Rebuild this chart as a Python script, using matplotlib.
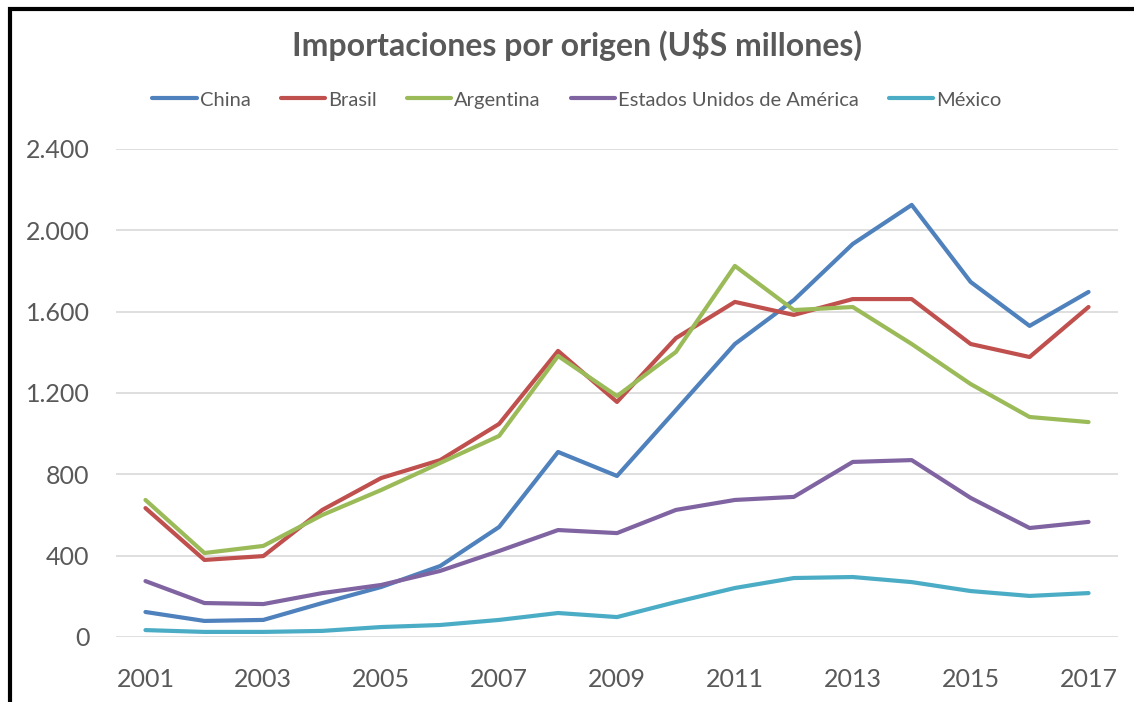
import matplotlib

matplotlib.use("Agg")
import matplotlib.pyplot as plt
from matplotlib.patches import Rectangle
from matplotlib.ticker import FuncFormatter

years = list(range(2001, 2018))
china = [123, 79, 84, 167, 246, 349, 541, 910, 792, 1116, 1441, 1657, 1933, 2125, 1746, 1530, 1697]
brasil = [634, 379, 398, 625, 782, 870, 1048, 1407, 1156, 1470, 1648, 1584, 1662, 1662, 1441, 1377, 1623]
argentina = [674, 413, 448, 600, 723, 856, 989, 1382, 1185, 1402, 1825, 1608, 1623, 1441, 1244, 1082, 1057]
eeuu = [275, 167, 162, 216, 256, 325, 423, 526, 511, 625, 674, 689, 861, 870, 684, 536, 566]
mexico = [34, 25, 25, 30, 49, 59, 84, 118, 98, 172, 241, 290, 295, 270, 226, 202, 216]

series = [
    ("China", china, "#4F81BD"),
    ("Brasil", brasil, "#C0504D"),
    ("Argentina", argentina, "#9BBB59"),
    ("Estados Unidos de América", eeuu, "#8064A2"),
    ("México", mexico, "#4BACC6"),
]

plt.rcParams["font.family"] = ["Lato", "DejaVu Sans"]
text_color = "#595959"

W, H = 1134, 702
fig = plt.figure(figsize=(W / 100, H / 100), dpi=100)
ax = fig.add_axes([116 / W, 1 - 637 / H, (1118 - 116) / W, (637 - 149) / H])

for name, vals, color in series:
    ax.plot(years, vals, color=color, linewidth=3.0, label=name, solid_capstyle="round")

ax.set_xlim(2000.5, 2017.5)
ax.set_ylim(0, 2400)
ax.set_xticks(years[::2])
ax.set_yticks(range(0, 2401, 400))
ax.yaxis.set_major_formatter(FuncFormatter(lambda v, p: f"{int(v):,}".replace(",", ".")))
ax.grid(axis="y", color="#D9D9D9", linewidth=1.2)
ax.set_axisbelow(True)
for s in ax.spines.values():
    s.set_visible(False)
ax.tick_params(axis="both", length=0, labelsize=18, colors=text_color)
ax.tick_params(axis="y", pad=19)
ax.tick_params(axis="x", pad=22)

fig.text(577 / W, 1 - 45 / H, "Importaciones por origen (U$S millones)", ha="center", va="center",
         fontsize=23, fontweight="bold", color=text_color)

fig.legend(loc="center", bbox_to_anchor=(577 / W, 1 - 100 / H), ncol=5, frameon=False,
           fontsize=14.5, handlelength=2.2, handletextpad=0.15, columnspacing=1.5, labelcolor=text_color)

fig.patches.append(Rectangle((10 / W, -0.1), 1.2, 1.1 - 9 / H, transform=fig.transFigure,
                             fill=False, edgecolor="black", linewidth=3))

fig.savefig("out.png", dpi=100, facecolor="white")
